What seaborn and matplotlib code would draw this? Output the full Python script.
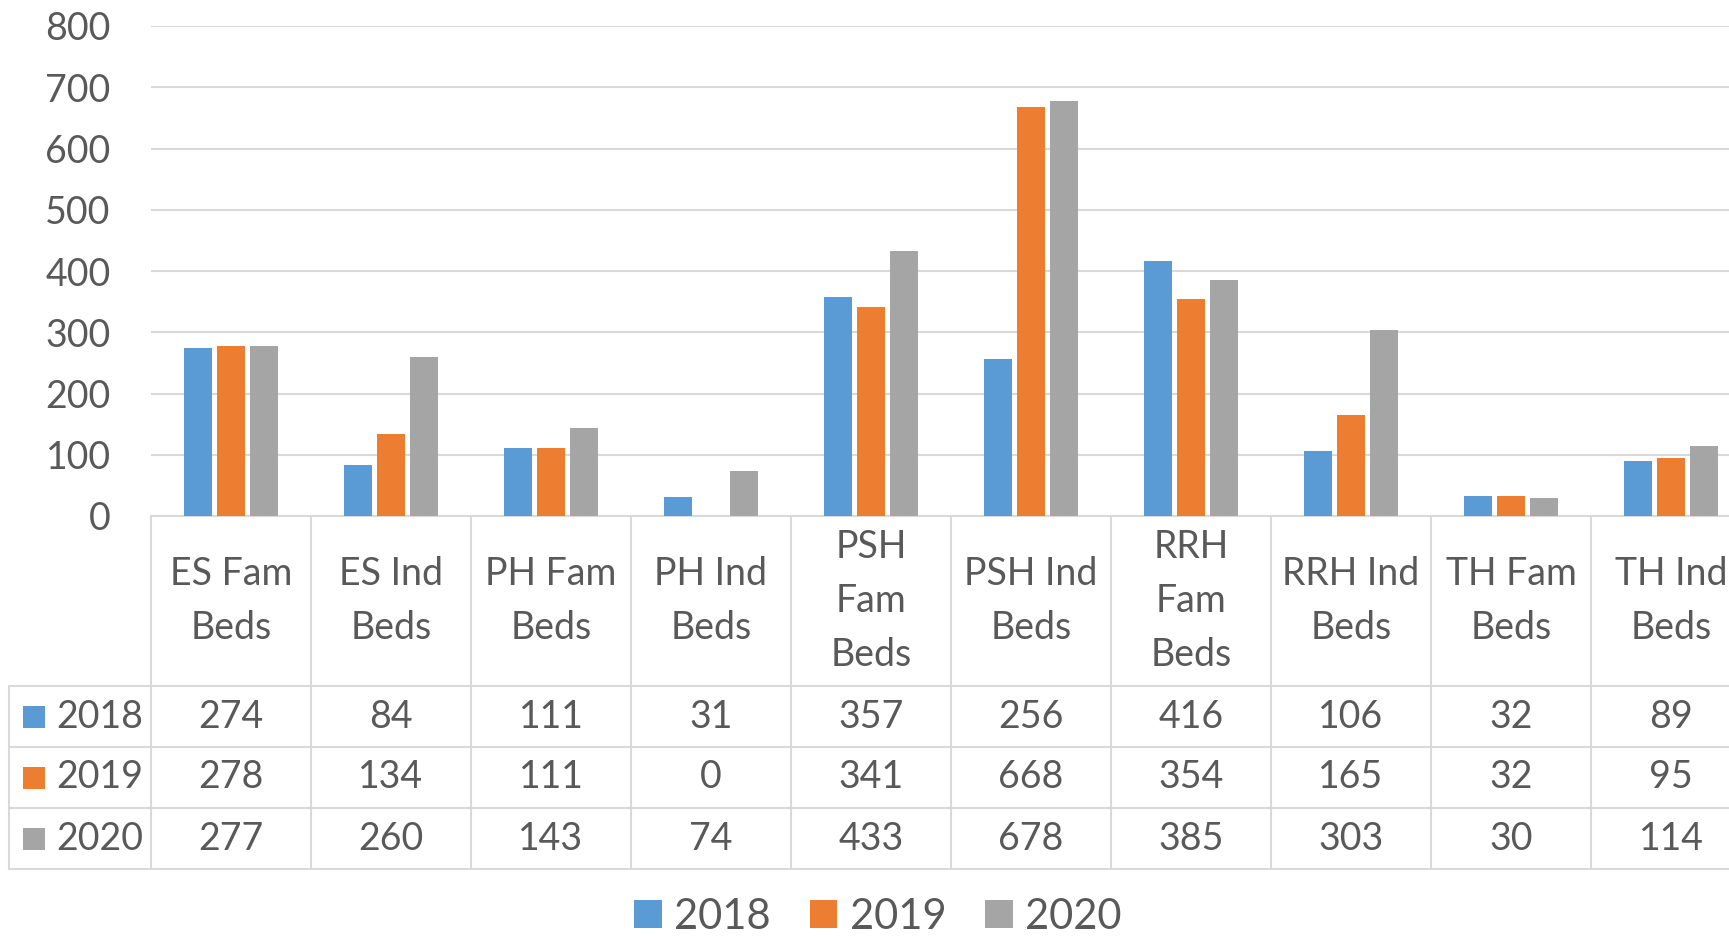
import matplotlib
matplotlib.use('Agg')
import matplotlib.pyplot as plt
import matplotlib.transforms as mtransforms
from matplotlib.patches import Rectangle
from matplotlib.lines import Line2D
import seaborn as sns
import pandas as pd

# ------------------------------------------------------------
# Data
# ------------------------------------------------------------
categories = ['ES Fam Beds', 'ES Ind Beds', 'PH Fam Beds', 'PH Ind Beds', 'PSH Fam Beds',
              'PSH Ind Beds', 'RRH Fam Beds', 'RRH Ind Beds', 'TH Fam Beds', 'TH Ind Beds']
header_labels = ['ES Fam\nBeds', 'ES Ind\nBeds', 'PH Fam\nBeds', 'PH Ind\nBeds', 'PSH\nFam\nBeds',
                 'PSH Ind\nBeds', 'RRH\nFam\nBeds', 'RRH Ind\nBeds', 'TH Fam\nBeds', 'TH Ind\nBeds']
years = ['2018', '2019', '2020']
beds_2018 = [274, 84, 111, 31, 357, 256, 416, 106, 32, 89]
beds_2019 = [278, 134, 111, 0, 341, 668, 354, 165, 32, 95]
beds_2020 = [277, 260, 143, 74, 433, 678, 385, 303, 30, 114]
y_ticks = [0, 100, 200, 300, 400, 500, 600, 700, 800]

colors = ['#5B9BD5', '#ED7D31', '#A5A5A5']
TXT = '#595959'
LINE = '#D9D9D9'
FS = 27
FS_LEG = 30

series = {'2018': beds_2018, '2019': beds_2019, '2020': beds_2020}
df = pd.DataFrame([(c, yr, v) for yr in years for c, v in zip(categories, series[yr])],
                  columns=['category', 'year', 'beds'])

# ------------------------------------------------------------
# Figure
# ------------------------------------------------------------
sns.set_style('white')
plt.rcParams['font.family'] = ['Lato', 'DejaVu Sans']

W, H = 1729, 936
fig = plt.figure(figsize=(W / 100, H / 100), dpi=100)

def fx(px):
    return px / W

def fy(py):
    return 1 - py / H

# plot area: x 151..1751 px (last column runs off the picture), y 26..516 px
ax = fig.add_axes([fx(151), fy(516), fx(1751) - fx(151), fy(26) - fy(516)])

sns.barplot(data=df, x='category', y='beds', hue='year', order=categories, hue_order=years,
            palette=colors, saturation=1, width=0.62, gap=0.17, linewidth=0,
            legend=False, ax=ax, zorder=3)

ax.set_xlim(-0.5, len(categories) - 0.5)
ax.set_ylim(0, 800)
ax.set_yticks(y_ticks)
ax.set_yticklabels([str(t) for t in y_ticks], fontsize=FS, color=TXT)
ax.tick_params(axis='y', length=0, pad=29)
ax.tick_params(axis='x', bottom=False, labelbottom=False)
ax.set_xlabel('')
ax.set_ylabel('')
ax.yaxis.grid(True, color=LINE, linewidth=1.5, zorder=0)
ax.set_axisbelow(True)
for s in ['top', 'right', 'left']:
    ax.spines[s].set_visible(False)
ax.spines['bottom'].set_color(LINE)
ax.spines['bottom'].set_linewidth(1.5)

# ------------------------------------------------------------
# Data table under the chart
# ------------------------------------------------------------
trans = mtransforms.blended_transform_factory(ax.transData, fig.transFigure)
rows_px = [516, 686, 747, 808, 869]
x_left = -0.5
x_right = len(categories) - 0.5

def tline(xs, ys, transform):
    fig.add_artist(Line2D(xs, ys, transform=transform, color=LINE, linewidth=1.5))

# horizontal lines of value rows (extend to the row label column)
for r in rows_px[1:]:
    tline([fx(9), fx(151)], [fy(r), fy(r)], fig.transFigure)
    tline([x_left, x_right], [fy(r), fy(r)], trans)
# vertical lines
for i in range(len(categories) + 1):
    tline([x_left + i, x_left + i], [fy(rows_px[0]), fy(rows_px[-1])], trans)
tline([fx(9), fx(9)], [fy(rows_px[1]), fy(rows_px[-1])], fig.transFigure)

# column headers
for i, lab in enumerate(header_labels):
    fig.text(i, fy((rows_px[0] + rows_px[1]) / 2), lab, transform=trans, ha='center',
             va='center', fontsize=FS, color=TXT, linespacing=1.62, multialignment='center')

# rows: legend key, year, values
for k, yr in enumerate(years):
    yc = (rows_px[k + 1] + rows_px[k + 2]) / 2
    fig.add_artist(Rectangle((fx(23), fy(yc + 11)), fx(22), 22 / H,
                             transform=fig.transFigure, color=colors[k], linewidth=0))
    fig.text(fx(56), fy(yc), yr, ha='left', va='center', fontsize=FS, color=TXT)
    for i, v in enumerate(series[yr]):
        fig.text(i, fy(yc), str(v), transform=trans, ha='center', va='center',
                 fontsize=FS, color=TXT)

# ------------------------------------------------------------
# Legend
# ------------------------------------------------------------
handles = [Rectangle((0, 0), 1, 1, color=c, linewidth=0) for c in colors]
fig.legend(handles, years, loc='center', bbox_to_anchor=(fx(878), fy(917)), ncol=3,
           frameon=False, fontsize=FS_LEG, labelcolor=TXT, handlelength=0.66, handleheight=0.66,
           handletextpad=0.3, columnspacing=0.93, borderpad=0, borderaxespad=0)

fig.savefig('out.png', dpi=100)
